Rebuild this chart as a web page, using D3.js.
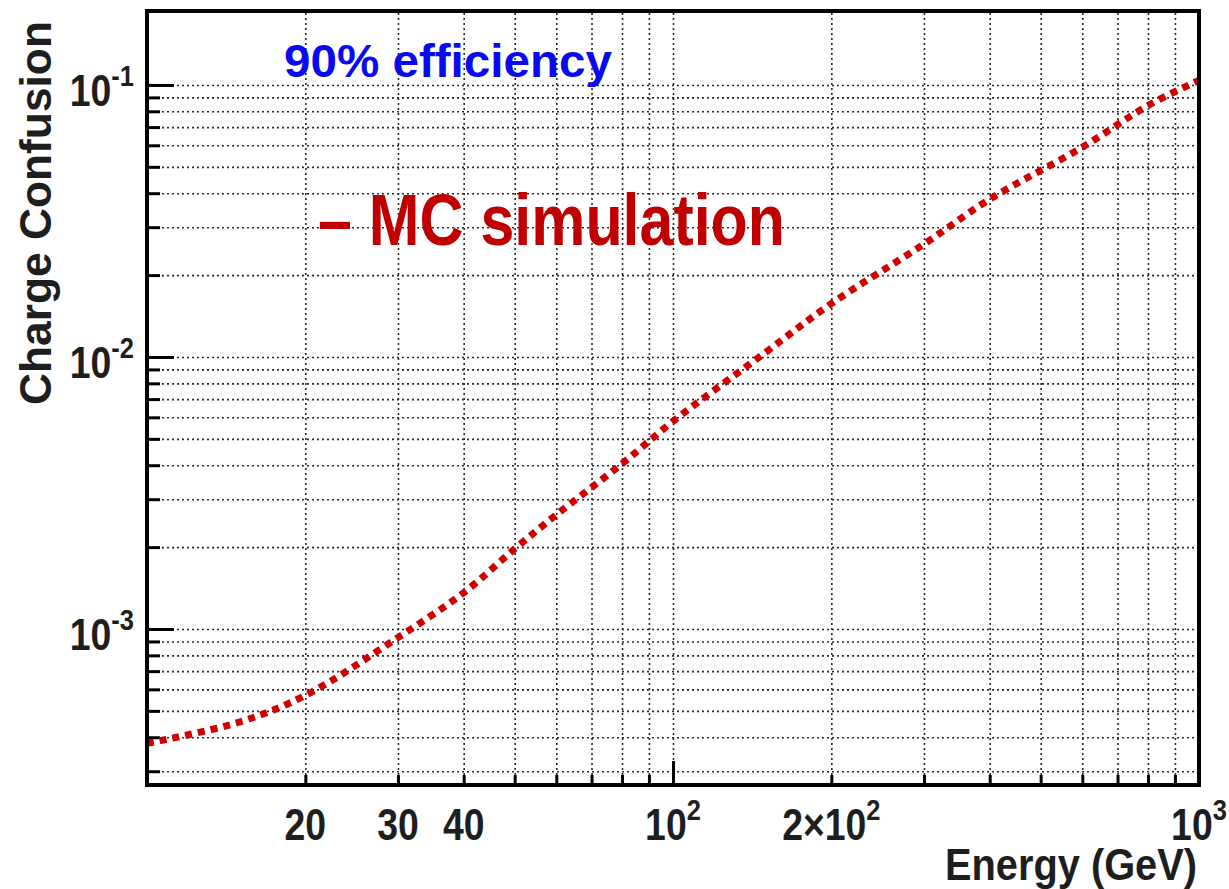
<!DOCTYPE html>
<html>
<head>
<meta charset="utf-8">
<script src="https://cdn.jsdelivr.net/npm/d3@7/dist/d3.min.js"></script>
<style>
body{margin:0;background:#fff}
svg{display:block}
text{font-family:"Liberation Sans",Arial,Helvetica,sans-serif;font-weight:bold}
</style>
</head>
<body>
<div id="chart"></div>
<script>
const SVG_W = 1229, SVG_H = 889;
const PLOT = {left:147, right:1199, top:11, bottom:785};

// curve: energy (GeV) -> charge confusion
const energy    = [10, 15, 20, 30, 40, 50, 60, 80, 100, 150, 200, 300, 400, 600, 800, 1000];
const confusion = [3.8e-4, 4.55e-4, 5.7e-4, 9.3e-4, 1.36e-3, 1.97e-3, 2.63e-3, 4.05e-3, 5.8e-3,
                   1.04e-2, 1.57e-2, 2.6e-2, 3.8e-2, 5.9e-2, 8.4e-2, 1.04e-1];

// ticks
const xMajor = [100, 1000];
const xMinor = [20, 30, 40, 50, 60, 70, 80, 90, 200, 300, 400, 500, 600, 700, 800, 900];
const xLabels = [
  {v:20, base:"20"}, {v:30, base:"30"}, {v:40, base:"40"},
  {v:100, base:"10", sup:"2"}, {v:200, base:"2\u00d710", sup:"2"}, {v:1000, base:"10", sup:"3"}
];
const yMajor = [1e-3, 1e-2, 1e-1];
const yMinor = [3e-4, 4e-4, 5e-4, 6e-4, 7e-4, 8e-4, 9e-4,
                2e-3, 3e-3, 4e-3, 5e-3, 6e-3, 7e-3, 8e-3, 9e-3,
                2e-2, 3e-2, 4e-2, 5e-2, 6e-2, 7e-2, 8e-2, 9e-2];
const yLabels = [{v:1e-3, sup:"-3"}, {v:1e-2, sup:"-2"}, {v:1e-1, sup:"-1"}];

const svg = d3.select("#chart").append("svg").attr("width", SVG_W).attr("height", SVG_H);

const x = d3.scaleLog().domain([10, 1000]).range([PLOT.left, PLOT.right]);
const y = d3.scaleLog().domain([2.67e-4, 0.187]).range([PLOT.bottom, PLOT.top]);
const pw = PLOT.right - PLOT.left, ph = PLOT.bottom - PLOT.top;

// grid
svg.append("g").attr("class", "grid")
  .attr("transform", `translate(0,${PLOT.bottom})`)
  .call(d3.axisBottom(x).tickValues(xMinor.concat([100])).tickSize(-ph).tickFormat(""));
svg.append("g").attr("class", "grid")
  .attr("transform", `translate(${PLOT.left},0)`)
  .call(d3.axisLeft(y).tickValues(yMinor.concat(yMajor)).tickSize(-pw).tickFormat(""));
svg.selectAll(".grid .domain").remove();
svg.selectAll(".grid line")
  .attr("stroke", "#2a2a2a").attr("stroke-width", 1.6).attr("stroke-dasharray", "2,3");

// tick marks (inside)
function ticks(axis, vals, size, tr){
  const g = svg.append("g").attr("transform", tr)
    .call(axis.tickValues(vals).tickSize(-size).tickFormat(""));
  g.select(".domain").remove();
  g.selectAll("line").attr("stroke", "#000").attr("stroke-width", 3);
}
ticks(d3.axisBottom(x), xMinor, 10, `translate(0,${PLOT.bottom})`);
ticks(d3.axisBottom(x), xMajor, 24, `translate(0,${PLOT.bottom})`);
ticks(d3.axisLeft(y), yMinor, 13, `translate(${PLOT.left},0)`);
ticks(d3.axisLeft(y), yMajor, 27, `translate(${PLOT.left},0)`);

// curve
svg.append("clipPath").attr("id", "clip").append("rect")
  .attr("x", PLOT.left).attr("y", PLOT.top).attr("width", pw).attr("height", ph);
svg.append("path")
  .datum(d3.zip(energy, confusion))
  .attr("clip-path", "url(#clip)")
  .attr("d", d3.line().x(d => x(d[0])).y(d => y(d[1])).curve(d3.curveCatmullRom.alpha(0.5)))
  .attr("fill", "none").attr("stroke", "#d00000").attr("stroke-width", 7)
  .attr("stroke-dasharray", "7,6");

// frame
svg.append("rect")
  .attr("x", PLOT.left).attr("y", PLOT.top).attr("width", pw).attr("height", ph)
  .attr("fill", "none").attr("stroke", "#000").attr("stroke-width", 4);

// tick labels, slightly condensed like the original font
function tickLabel(cx, base, anchor, main, sup){
  const t = svg.append("text")
    .attr("transform", `translate(${cx},${base}) scale(0.85,1)`)
    .attr("text-anchor", anchor).attr("fill", "#1e1e1e").attr("font-size", 44);
  t.append("tspan").text(main);
  if (sup) t.append("tspan").attr("dy", -20).attr("font-size", 30).text(sup);
}
yLabels.forEach(d => tickLabel(134, y(d.v) + 21, "end", "10", d.sup));
xLabels.forEach(d => tickLabel(x(d.v), 840, "middle", d.base, d.sup));

// axis titles
svg.append("text").attr("x", 945).attr("y", 880)
  .attr("fill", "#1e1e1e").attr("font-size", 44)
  .attr("textLength", 252).attr("lengthAdjust", "spacingAndGlyphs").text("Energy (GeV)");
svg.append("text").attr("transform", "translate(51,405) rotate(-90)")
  .attr("fill", "#1e1e1e").attr("font-size", 44)
  .attr("textLength", 384).attr("lengthAdjust", "spacingAndGlyphs").text("Charge Confusion");

// annotations
svg.append("text").attr("x", 284).attr("y", 77).attr("fill", "#0a0af0")
  .attr("font-size", 47).attr("textLength", 328).attr("lengthAdjust", "spacingAndGlyphs")
  .text("90% efficiency");
svg.append("text").attr("x", 318).attr("y", 245).attr("fill", "#c00000")
  .attr("font-size", 72).attr("textLength", 467).attr("lengthAdjust", "spacingAndGlyphs")
  .text("\u2013 MC simulation");
</script>
</body>
</html>
